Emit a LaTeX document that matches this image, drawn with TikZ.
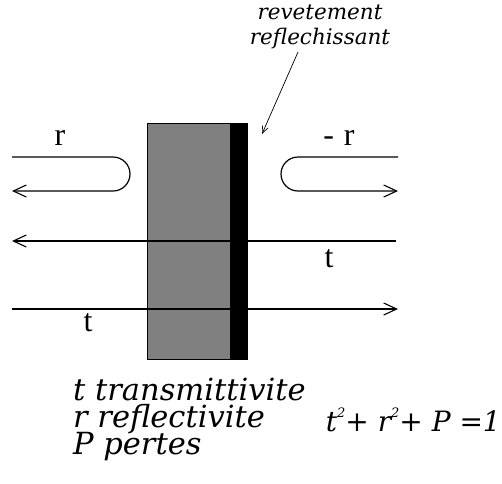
\documentclass[tikz,border=0pt]{standalone}
\usepackage{fontspec}
\setmainfont{Liberation Serif}
\newfontfamily\itfont{DejaVu Serif}
\usetikzlibrary{arrows.meta}
\tikzset{
  ray/.style={line width=1.2pt, -{Straight Barb[length=13pt,width=12pt,line width=1.1pt]}},
  lbl/.style={font=\fontsize{32}{32}\selectfont, inner sep=0pt, anchor=base},
  note/.style={font=\itfont\itshape\fontsize{21.5}{25}\selectfont, inner sep=0pt, align=center},
  legend/.style={font=\itfont\itshape\fontsize{30.5}{30.5}\selectfont, inner sep=0pt, anchor=base west},
}
\newcommand{\sqr}{\raisebox{0.5em}{\fontsize{13}{13}\selectfont 2}}
\begin{document}
\begin{tikzpicture}[x=1pt,y=-1pt]
\useasboundingbox (0,0) rectangle (502,483);
% slab and coating
\node[draw=black, line width=0.6pt, fill=black!50, minimum width=83pt, minimum height=236pt, inner sep=0pt, anchor=north west] (slab) at (147,123) {};
\node[draw=black, fill=black, minimum width=17pt, minimum height=236pt, inner sep=0pt, anchor=north west] (coat) at (230,123) {};
% left reflection loop
\coordinate (l1) at (12,157);
\coordinate (l2) at (113,157);
\coordinate (l4) at (12,191);
\draw[ray] (l1) -- (l2) arc[start angle=-90, end angle=90, radius=17] -- (l4);
% right reflection loop
\coordinate (r1) at (398,157);
\coordinate (r2) at (298,157);
\coordinate (r4) at (398,191);
\draw[ray] (r1) -- (r2) arc[start angle=-90, end angle=-270, radius=17] -- (r4);
% transmitted rays
\coordinate (m1) at (396,241);
\coordinate (m2) at (12,241);
\draw[ray] (m1) -- (m2);
\coordinate (b1) at (12,309);
\coordinate (b2) at (398,309);
\draw[ray] (b1) -- (b2);
% labels
\node[lbl] (lr) at (60,145) {r};
\node[lbl] (rr) at (339,145) {-\hspace{10pt}r};
\node[lbl] (rt) at (329,267) {t};
\node[lbl] (lt) at (88,331) {t};
% coating annotation
\node[note] (ann) at (320,27) {revetement\\reflechissant};
\coordinate (annend) at (298,52);
\coordinate (annhit) at (262,134);
\draw[line width=0.7pt, -{Straight Barb[length=7pt,width=6pt,line width=0.7pt]}] (annend) -- (annhit);
% legend
\node[legend] (lg1) at (73,400) {t transmittivite};
\node[legend] (lg2) at (73,427) {r reflectivite};
\node[legend] (lg3) at (73,454) {P pertes};
\node[font=\itfont\itshape\fontsize{28}{28}\selectfont, inner sep=0pt, anchor=base east] (eq) at (501,431) {t\sqr+ r\sqr+ P =1};
\end{tikzpicture}
\end{document}
